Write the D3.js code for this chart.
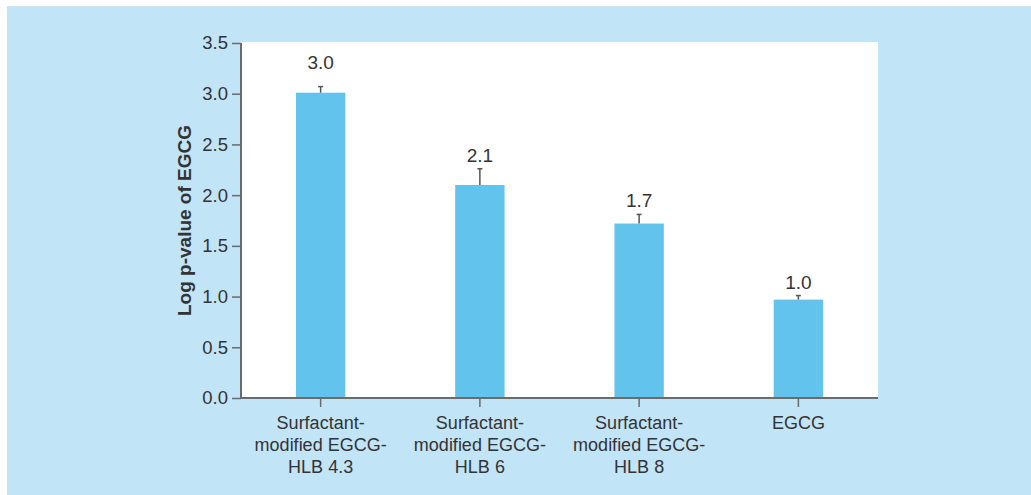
<!DOCTYPE html>
<html>
<head>
<meta charset="utf-8">
<script src="https://cdn.jsdelivr.net/npm/d3@7"></script>
<style>
  html, body { margin: 0; padding: 0; background: #ffffff; }
  svg { display: block; font-family: "Liberation Sans", Arial, sans-serif; }
</style>
</head>
<body>
<svg id="chart" width="1031" height="495"></svg>
<script>
// Bar groups (multi-line labels), mean log p-values and upper error
const categories = [
  ["Surfactant-", "modified EGCG-", "HLB 4.3"],
  ["Surfactant-", "modified EGCG-", "HLB 6"],
  ["Surfactant-", "modified EGCG-", "HLB 8"],
  ["EGCG"]
];
const values = [3.01, 2.10, 1.72, 0.97];
const errors = [0.06, 0.16, 0.09, 0.04];
const yTicks = [0, 0.5, 1.0, 1.5, 2.0, 2.5, 3.0, 3.5];
const yTitle = "Log p-value of EGCG";

const svg = d3.select("#chart");
const W = 1031, H = 495;
const plot = { left: 241, right: 878, top: 43, bottom: 398 };

// panel background
svg.append("rect").attr("x", 7).attr("y", 6).attr("width", W - 7).attr("height", H - 6)
  .attr("fill", "#c2e4f7");
svg.append("rect").attr("x", plot.left).attr("y", plot.top - 1)
  .attr("width", plot.right - plot.left).attr("height", plot.bottom - plot.top + 1)
  .attr("fill", "#ffffff");

const x = d3.scaleBand().domain(d3.range(categories.length))
  .range([plot.left, plot.right]).padding(0);
const y = d3.scaleLinear().domain([0, 3.5]).range([plot.bottom, plot.top]);
const barW = x.bandwidth() * 0.31;
const textColor = "#333333";
const axisColor = "#6b6b6b";

// bars
svg.append("g").selectAll("rect").data(values).join("rect")
  .attr("x", (d, i) => x(i) + x.bandwidth() / 2 - barW / 2)
  .attr("y", d => y(d))
  .attr("width", barW)
  .attr("height", d => y(0) - y(d))
  .attr("fill", "#62c3ed");

// upper error bars
const eg = svg.append("g").attr("stroke", "#555555").attr("stroke-width", 1.5);
values.forEach((v, i) => {
  const cx = x(i) + x.bandwidth() / 2;
  eg.append("line").attr("x1", cx).attr("x2", cx).attr("y1", y(v)).attr("y2", y(v + errors[i]));
  eg.append("line").attr("x1", cx - 2.5).attr("x2", cx + 2.5)
    .attr("y1", y(v + errors[i])).attr("y2", y(v + errors[i]));
});

// value labels, lifted clear of the top error cap (tallest bar gets extra room)
const maxTop = d3.max(values, (d, i) => d + errors[i]);
svg.append("g").selectAll("text").data(values).join("text")
  .attr("x", (d, i) => x(i) + x.bandwidth() / 2)
  .attr("y", (d, i) => y(d + errors[i]) - (d + errors[i] === maxTop ? 18 : 7))
  .attr("text-anchor", "middle")
  .attr("fill", textColor)
  .attr("font-size", 19)
  .text(d => d.toFixed(1));

// y axis
const yAxis = d3.axisLeft(y).tickValues(yTicks).tickFormat(d3.format(".1f"))
  .tickSize(9).tickPadding(4);
const gy = svg.append("g").attr("transform", `translate(${plot.left},0)`).call(yAxis);
gy.select(".domain").attr("stroke", axisColor).attr("stroke-width", 2)
  .attr("d", `M0,${plot.top}V${plot.bottom}`);
gy.selectAll(".tick line").attr("stroke", axisColor).attr("stroke-width", 1.5);
gy.selectAll(".tick text").attr("fill", textColor).attr("font-size", 18.5)
  .attr("font-family", "Liberation Sans, Arial, sans-serif");

// x axis
const xAxis = d3.axisBottom(x).tickSize(9).tickFormat("");
const gx = svg.append("g").attr("transform", `translate(0,${plot.bottom})`).call(xAxis);
gx.select(".domain").attr("stroke", axisColor).attr("stroke-width", 2)
  .attr("d", `M${plot.left - 1},0H${plot.right}`);
gx.selectAll(".tick line").attr("stroke", axisColor).attr("stroke-width", 1.5);

// multi-line category labels
const lab = svg.append("g").selectAll("text").data(categories).join("text")
  .attr("text-anchor", "middle")
  .attr("fill", textColor)
  .attr("font-size", 18)
  .attr("transform", (d, i) => `translate(${x(i) + x.bandwidth() / 2},${plot.bottom + 31})`);
lab.selectAll("tspan").data(d => d).join("tspan")
  .attr("x", 0)
  .attr("y", (d, j) => j * 22)
  .text(d => d);

// y axis title
svg.append("text")
  .attr("transform", `translate(191,${(plot.top + plot.bottom) / 2}) rotate(-90)`)
  .attr("text-anchor", "middle")
  .attr("fill", textColor)
  .attr("font-size", 19)
  .attr("font-weight", "bold")
  .text(yTitle);
</script>
</body>
</html>
